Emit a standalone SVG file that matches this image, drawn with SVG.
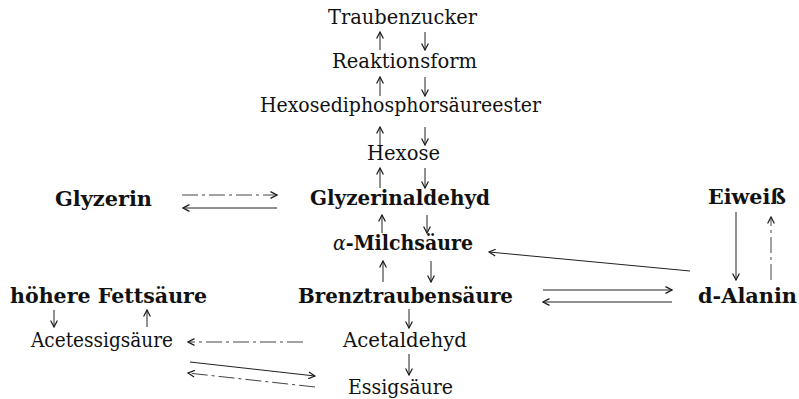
<svg xmlns="http://www.w3.org/2000/svg" width="799" height="399" viewBox="0 0 799 399">
  <defs>
    <marker id="head" viewBox="0 0 8 8" refX="7" refY="4" markerWidth="8" markerHeight="8" markerUnits="userSpaceOnUse" orient="auto">
      <path d="M0.5,0.6 L7,4 L0.5,7.4" fill="none" stroke="#1a1a1a" stroke-width="1.2"/>
    </marker>
    <style>
      text { font-family: "DejaVu Serif", "Liberation Serif", serif; font-size: 20px; fill: #111; }
      .b { font-weight: bold; }
      .it { font-style: italic; font-weight: normal; }
      .arr { fill: none; stroke: #222; stroke-width: 1; marker-end: url(#head); }
      .dash { stroke-dasharray: 16 4 3 4; stroke: #444; }
    </style>
  </defs>
  <rect width="799" height="399" fill="#fff"/>

  <!-- main chain -->
  <g id="traubenzucker"><text x="328" y="24" textLength="149" lengthAdjust="spacingAndGlyphs">Traubenzucker</text></g>
  <g id="reaktionsform"><text x="332" y="68" textLength="145" lengthAdjust="spacingAndGlyphs">Reaktionsform</text></g>
  <g id="hexosediphosphorsaeureester"><text x="260" y="112" textLength="281" lengthAdjust="spacingAndGlyphs">Hexosediphosphorsäureester</text></g>
  <g id="hexose"><text x="367" y="160" textLength="73" lengthAdjust="spacingAndGlyphs">Hexose</text></g>
  <g id="glyzerinaldehyd"><text class="b" x="310" y="205" textLength="180" lengthAdjust="spacingAndGlyphs">Glyzerinaldehyd</text></g>
  <g id="milchsaeure"><text class="b" x="333" y="250" textLength="140" lengthAdjust="spacingAndGlyphs"><tspan class="it">α</tspan>-Milchsäure</text></g>
  <g id="brenztraubensaeure"><text class="b" x="298" y="303" textLength="215" lengthAdjust="spacingAndGlyphs">Brenztraubensäure</text></g>
  <g id="acetaldehyd"><text x="343" y="347" textLength="124" lengthAdjust="spacingAndGlyphs">Acetaldehyd</text></g>
  <g id="essigsaeure"><text x="348" y="394" textLength="105" lengthAdjust="spacingAndGlyphs">Essigsäure</text></g>

  <!-- side branches -->
  <g id="glyzerin"><text class="b" x="55" y="206" textLength="97" lengthAdjust="spacingAndGlyphs">Glyzerin</text></g>
  <g id="eiweiss"><text class="b" x="708" y="204" textLength="78" lengthAdjust="spacingAndGlyphs">Eiweiß</text></g>
  <g id="d-alanin"><text class="b" x="698" y="303" textLength="99" lengthAdjust="spacingAndGlyphs">d-Alanin</text></g>
  <g id="hoehere-fettsaeure"><text class="b" x="10" y="303" textLength="197" lengthAdjust="spacingAndGlyphs">höhere  Fettsäure</text></g>
  <g id="acetessigsaeure"><text x="31" y="347" textLength="142" lengthAdjust="spacingAndGlyphs">Acetessigsäure</text></g>

  <g id="connectors">
    <!-- up (build-up) column and down (breakdown) column -->
    <path class="arr" d="M380,50 V32"/>
    <path class="arr" d="M425,32 V50"/>
    <path class="arr" d="M380,96 V77"/>
    <path class="arr" d="M425,77 V96"/>
    <path class="arr" d="M380,145 V127"/>
    <path class="arr" d="M425,127 V145"/>
    <path class="arr" d="M380,188 V168"/>
    <path class="arr" d="M425,168 V188"/>
    <path class="arr" d="M382,233 V215"/>
    <path class="arr" d="M427,215 V233"/>
    <path class="arr" d="M383,282 V261"/>
    <path class="arr" d="M431,261 V282"/>
    <path class="arr" d="M409,309 V328"/>
    <path class="arr" d="M409,354 V375"/>

    <!-- Glyzerin <-> Glyzerinaldehyd -->
    <path class="arr dash" d="M182,195 H277"/>
    <path class="arr" d="M277,208 H183"/>

    <!-- d-Alanin -> Milchsäure -->
    <path class="arr" d="M690,271 L489,252"/>

    <!-- Brenztraubensäure <-> d-Alanin -->
    <path class="arr" d="M543,290 H672"/>
    <path class="arr" d="M672,302 H543"/>

    <!-- Eiweiß <-> d-Alanin -->
    <path class="arr" d="M736,212 V280"/>
    <path class="arr dash" d="M771,280 V217"/>

    <!-- höhere Fettsäure <-> Acetessigsäure -->
    <path class="arr" d="M54,310 V327"/>
    <path class="arr" d="M147,327 V310"/>

    <!-- Acetaldehyd -> Acetessigsäure -->
    <path class="arr dash" d="M303,342 H188"/>

    <!-- Acetessigsäure <-> Essigsäure -->
    <path class="arr" d="M190,362 L315,376"/>
    <path class="arr dash" d="M315,387 L188,373"/>
  </g>
</svg>
